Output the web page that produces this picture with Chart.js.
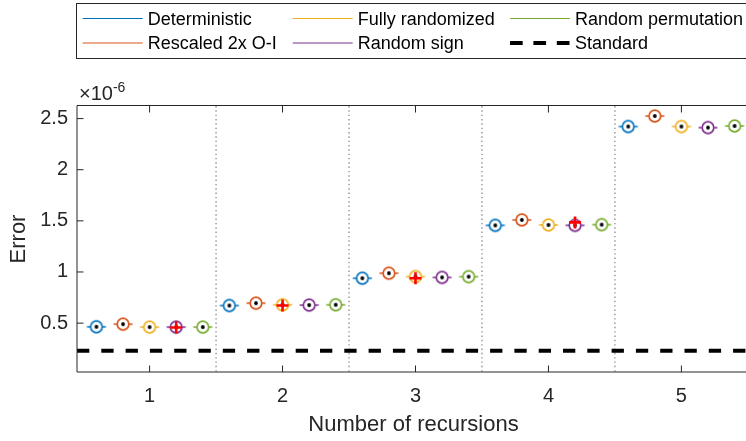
<!DOCTYPE html>
<html>
<head>
<meta charset="utf-8">
<script src="https://cdn.jsdelivr.net/npm/chart.js@4.4.1/dist/chart.umd.min.js"></script>
<style>
    html, body { margin: 0; padding: 0; background: #fff; overflow: hidden; }
    #wrap { position: relative; width: 750px; height: 441px; }
</style>
</head>
<body>
<div id="wrap"><canvas id="errChart"></canvas></div>
<script>
// Number of recursions on the x axis
const recursions = [1, 2, 3, 4, 5];
const seriesNames = ['Deterministic', 'Rescaled 2x O-I', 'Fully randomized', 'Random sign', 'Random permutation'];
const seriesColors = ['#0072BD', '#D95319', '#EDB120', '#7E2F8E', '#77AC30'];
const seriesOffsets = [-0.4, -0.2, 0, 0.2, 0.4];

// median error per recursion count (units of 1e-6)
const deterministic = [0.464, 0.672, 0.939, 1.456, 2.422];
const rescaled      = [0.490, 0.695, 0.988, 1.509, 2.525];
const fullyRandom   = [0.461, 0.679, 0.955, 1.460, 2.422];
const randomSign    = [0.461, 0.676, 0.947, 1.456, 2.412];
const randomPerm    = [0.461, 0.679, 0.954, 1.463, 2.428];
const seriesValues = [deterministic, rescaled, fullyRandom, randomSign, randomPerm];

// outliers (red +): recursion, series index, value
const outlierRec    = [1, 2, 3, 4];
const outlierSeries = [3, 2, 2, 3];
const outlierVals   = [0.457, 0.672, 0.939, 1.485];

const standardError = 0.23;
const yTicks = [0.5, 1, 1.5, 2, 2.5];
const xRange = [0.454, 5.516];
const yRange = [0.022, 2.623];

const legendNames = seriesNames.concat(['Standard']);

Chart.defaults.font.family = '"Liberation Sans", Arial, sans-serif';
Chart.defaults.color = '#262626';

// circle + dot + flat box marker, like the compact matlab boxplot
function makeMarker(color) {
    const c = document.createElement('canvas');
    c.width = 22;
    c.height = 16;
    const g = c.getContext('2d');
    g.strokeStyle = color;
    g.lineWidth = 1.5;
    g.beginPath();
    g.moveTo(1.5, 8);
    g.lineTo(20.5, 8);
    g.stroke();
    g.beginPath();
    g.arc(11, 8, 5.8, 0, Math.PI * 2);
    g.fillStyle = '#fff';
    g.fill();
    g.lineWidth = 1.7;
    g.stroke();
    g.beginPath();
    g.arc(11, 8, 1.9, 0, Math.PI * 2);
    g.fillStyle = '#000';
    g.fill();
    return c;
}

const datasets = [];

datasets.push({
    type: 'scatter',
    label: 'outliers',
    data: outlierRec.map((r, k) => ({ x: r + seriesOffsets[outlierSeries[k]], y: outlierVals[k] })),
    pointStyle: 'cross',
    pointRadius: 6,
    pointBorderWidth: 2.6,
    borderColor: '#ff0000',
    backgroundColor: '#ff0000',
    order: 0
});

seriesNames.forEach((name, s) => {
    datasets.push({
        type: 'scatter',
        label: name,
        data: recursions.map((r, i) => ({ x: r + seriesOffsets[s], y: seriesValues[s][i] })),
        pointStyle: makeMarker(seriesColors[s]),
        pointRadius: 6,
        borderColor: seriesColors[s],
        order: 1
    });
});

datasets.push({
    type: 'line',
    label: 'Standard',
    data: [{ x: xRange[0], y: standardError }, { x: xRange[1], y: standardError }],
    borderColor: '#000',
    borderWidth: 4,
    borderDash: [12.3, 12],
    pointRadius: 0,
    order: 2
});

const framePlugin = {
    id: 'frame',
    beforeDatasetsDraw(chart) {
        const { ctx, chartArea: a, scales: { x } } = chart;
        // dotted separators between groups
        ctx.save();
        ctx.strokeStyle = '#8a8a8a';
        ctx.lineWidth = 1.3;
        ctx.setLineDash([1.4, 2.93]);
        for (let i = 0; i < recursions.length - 1; i++) {
            const px = x.getPixelForValue(recursions[i] + 0.5);
            ctx.beginPath();
            ctx.moveTo(px, a.top);
            ctx.lineTo(px, a.bottom);
            ctx.stroke();
        }
        ctx.restore();
    },
    afterDatasetsDraw(chart) {
        const { ctx, chartArea: a, scales: { x, y } } = chart;
        ctx.save();
        ctx.strokeStyle = '#262626';
        ctx.lineWidth = 1;
        ctx.beginPath();
        ctx.moveTo(a.left, a.top - 0.5);
        ctx.lineTo(a.right, a.top - 0.5);
        ctx.moveTo(a.left, a.top - 0.5);
        ctx.lineTo(a.left, a.bottom);
        ctx.lineTo(a.right, a.bottom);
        ctx.stroke();
        // inward ticks
        ctx.beginPath();
        yTicks.forEach(v => {
            const py = y.getPixelForValue(v);
            ctx.moveTo(a.left, py);
            ctx.lineTo(a.left + 6.5, py);
        });
        recursions.forEach(v => {
            const px = x.getPixelForValue(v);
            ctx.moveTo(px, a.bottom);
            ctx.lineTo(px, a.bottom - 6.5);
            ctx.moveTo(px, a.top);
            ctx.lineTo(px, a.top + 6.5);
        });
        ctx.stroke();

        // exponent label
        ctx.fillStyle = '#262626';
        ctx.font = '20px "Liberation Sans", Arial, sans-serif';
        ctx.textBaseline = 'alphabetic';
        ctx.textAlign = 'left';
        ctx.fillText('\u00d710', 79, 100);
        const w = ctx.measureText('\u00d710').width;
        ctx.font = '14px "Liberation Sans", Arial, sans-serif';
        ctx.fillText('-6', 79 + w, 91.5);
        ctx.restore();
    },
    afterDraw(chart) {
        const { ctx } = chart;
        const colX = [82.7, 292.7, 510];
        const lineY = [18.5, 43];
        const textY = [20, 44.3];
        ctx.save();
        ctx.fillStyle = '#fff';
        ctx.strokeStyle = '#262626';
        ctx.lineWidth = 1;
        ctx.fillRect(76.5, 3.5, 700, 55);
        ctx.strokeRect(76.5, 3.5, 700, 55);
        ctx.font = '18px "Liberation Sans", Arial, sans-serif';
        ctx.textBaseline = 'middle';
        ctx.textAlign = 'left';
        legendNames.forEach((name, i) => {
            const col = Math.floor(i / 2);
            const row = i % 2;
            const lx = colX[col];
            ctx.beginPath();
            if (i < seriesNames.length) {
                ctx.strokeStyle = seriesColors[i];
                ctx.lineWidth = 1;
                ctx.setLineDash([]);
            } else {
                ctx.strokeStyle = '#000';
                ctx.lineWidth = 4;
                ctx.setLineDash([12.7, 10.7]);
            }
            ctx.moveTo(lx, lineY[row]);
            ctx.lineTo(lx + 60, lineY[row]);
            ctx.stroke();
            ctx.fillStyle = '#000';
            ctx.fillText(name, lx + 65, textY[row]);
        });
        ctx.restore();
    }
};

new Chart(document.getElementById('errChart'), {
    type: 'scatter',
    data: { datasets },
    options: {
        responsive: true,
        maintainAspectRatio: false,
        animation: false,
        layout: { autoPadding: false, padding: { top: 106, left: 0, right: 0, bottom: 0 } },
        plugins: {
            legend: { display: false },
            tooltip: { enabled: false }
        },
        scales: {
            x: {
                type: 'linear',
                min: xRange[0],
                max: xRange[1],
                grid: { display: false, drawTicks: false },
                border: { display: false },
                afterBuildTicks: scale => { scale.ticks = recursions.map(v => ({ value: v })); },
                afterFit: scale => {
                    scale.height = 69;
                    scale.paddingLeft = 0;
                    scale.paddingRight = 0;
                },
                ticks: {
                    padding: 12,
                    font: { size: 20 },
                    color: '#262626',
                    callback: v => String(v)
                },
                title: {
                    display: true,
                    text: 'Number of recursions',
                    font: { size: 22 },
                    color: '#262626',
                    padding: { top: 0, bottom: 3 }
                }
            },
            y: {
                type: 'linear',
                min: yRange[0],
                max: yRange[1],
                grid: { display: false, drawTicks: false },
                border: { display: false },
                afterBuildTicks: scale => { scale.ticks = yTicks.map(v => ({ value: v })); },
                afterFit: scale => {
                    scale.width = 77;
                    scale.paddingTop = 0;
                    scale.paddingBottom = 0;
                },
                ticks: {
                    padding: 9,
                    font: { size: 20 },
                    color: '#262626',
                    callback: v => String(v)
                },
                title: {
                    display: true,
                    text: 'Error',
                    font: { size: 22 },
                    color: '#262626',
                    padding: { top: 6, bottom: 0 }
                }
            }
        }
    },
    plugins: [framePlugin]
});
</script>
</body>
</html>
